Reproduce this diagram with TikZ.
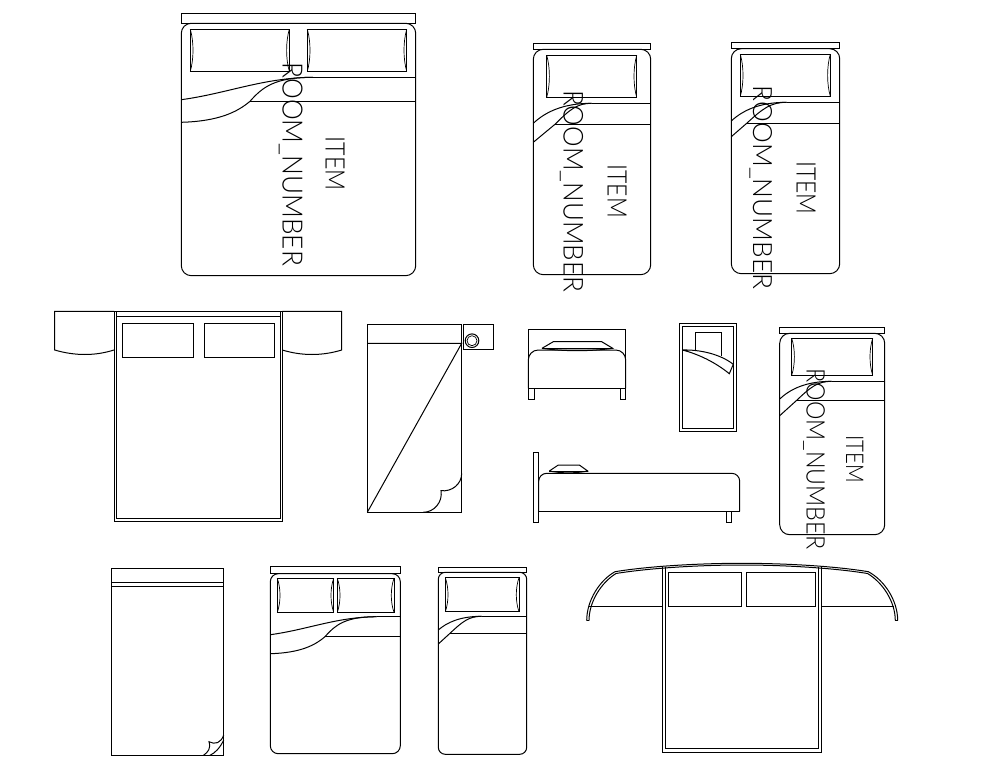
\documentclass[tikz,border=0pt]{standalone}
\usepackage{fontspec}
\usepackage{graphicx}
\setmainfont{Lato}[UprightFont=* Light]
\tikzset{
  cad/.style={line width=1pt,black,line join=miter},
  thinl/.style={line width=0.7pt,black},
  cadlabel/.style={inner sep=0pt,rotate=-90,anchor=base west},
}
% text: name, x of baseline, y of start, length, cap height, text
\newcommand{\cadtext}[6]{%
  \node[cadlabel] (#1) at (#2,#3) {\resizebox{#4pt}{#5pt}{#6}};}
\newcommand{\pillow}[4]{% x0 y0 x1 y1
  \draw[cad] (#1,#2) rectangle (#3,#4);
  \draw[thinl] (#1,#2) .. controls ({#1+3.6},{#2+(#4-#2)*0.3}) and ({#1+3.6},{#2+(#4-#2)*0.7}) .. (#1,#4);
  \draw[thinl] (#3,#2) .. controls ({#3-3.6},{#2+(#4-#2)*0.3}) and ({#3-3.6},{#2+(#4-#2)*0.7}) .. (#3,#4);
}
% bed: x0 x1 headtop matttop mattbot radius
\newcommand{\bed}[6]{%
  \draw[cad] (#1,#3) rectangle (#2,#4);
  \draw[cad,rounded corners=#6] (#1,#4) rectangle (#2,#5);
}
% wide sheet: x0 x1 ytop xtop ysec xsec ycurve1 ycurve2
\newcommand{\sheet}[8]{%
  \draw[cad] (#4,#3) -- (#2,#3);
  \draw[cad] (#6,#5) -- (#2,#5);
  \draw[cad] (#1,#7) .. controls ({#1+(#4-#1)*0.35},{#3+(#7-#3)*0.72}) and ({#1+(#4-#1)*0.62},{#3+(#7-#3)*0.02}) .. (#4,#3);
  \draw[cad] (#1,#8) .. controls ({#1+(#6-#1)*0.55},{#8-(#8-#5)*0.05}) and ({#1+(#6-#1)*0.82},{#8-(#8-#5)*0.5}) .. (#6,#5) .. controls ({#6+(#4-#6)*0.2},{#5-(#5-#3)*0.6}) and ({#6+(#4-#6)*0.4},#3) .. (#4,#3);
}
% narrow sheet
\newcommand{\sheetS}[8]{%
  \draw[cad] (#4,#3) -- (#2,#3);
  \draw[cad] (#6,#5) -- (#2,#5);
  \draw[cad] (#1,#7) .. controls ({#1+(#4-#1)*0.2},{#3+(#7-#3)*0.45}) and ({#1+(#4-#1)*0.5},#3) .. (#4,#3);
  \draw[cad] (#1,#8) -- (#6,#5) .. controls ({#6+(#4-#6)*0.4},{#5-(#5-#3)*0.7}) and ({#6+(#4-#6)*0.6},#3) .. (#4,#3);
}
\begin{document}
\begin{tikzpicture}[x=1pt,y=-1pt]
\useasboundingbox (0,0) rectangle (1007,770);
\fill[white] (0,0) rectangle (1007,770);

% --- large bed, top left
\bed{181.3}{415.7}{14}{23.3}{275.7}{10pt}
\pillow{190.3}{29.3}{289.3}{71.3}
\pillow{307.3}{29.3}{406.7}{71.3}
\sheet{181.3}{415.7}{77.3}{313}{101.3}{250}{99.7}{122.3}
\cadtext{t1a}{282.7}{62.3}{203.4}{20}{ROOM\_NUMBER}
\cadtext{t1b}{325.7}{136.7}{54}{19}{ITEM}

% --- bed 2
\bed{533.3}{650.7}{43.3}{49.3}{274.7}{10pt}
\pillow{546.7}{55.3}{636.7}{97.3}
\sheetS{533.3}{650.7}{103.3}{591.7}{124.3}{555}{123.3}{142.3}
\cadtext{t2a}{563.7}{90}{201.7}{19.6}{ROOM\_NUMBER}
\cadtext{t2b}{607.7}{164.3}{53.4}{19}{ITEM}

% --- bed 3
\bed{731.3}{839.7}{42.3}{48.7}{273.7}{10pt}
\pillow{740.3}{54.3}{830.3}{96.3}
\sheetS{731.3}{839.7}{102.3}{786.7}{123.3}{746.7}{121}{136.7}
\cadtext{t3a}{753}{85.7}{203.3}{19}{ROOM\_NUMBER}
\cadtext{t3b}{796.7}{161}{53.3}{19}{ITEM}

% --- plan with side tables
\draw[cad] (114,311.3) rectangle (282.3,521.3);
\draw[cad] (116.3,311.3) -- (116.3,518.3) -- (280.3,518.3) -- (280.3,311.3);
\draw[cad] (116.3,316) -- (280.3,316);
\draw[cad] (122.3,323.3) rectangle (193.7,357.3);
\draw[cad] (204.3,323.3) rectangle (274.3,357.3);
\draw[cad] (114,311.3) -- (54.7,311.3) -- (54.7,350) .. controls (75,356) and (95,356) .. (114,350);
\draw[cad] (282.3,311.3) -- (341.7,311.3) -- (341.7,350) .. controls (322,356) and (302,356) .. (282.3,350);

% --- plain plan with turned corner, nightstand
\draw[cad] (367.3,324.3) rectangle (461.7,512.3);
\draw[cad] (367.3,343.3) -- (461.7,343.3) -- (367.3,512.3);
\draw[cad] (461.7,473.3) .. controls (461.7,484) and (452,492) .. (441,490.7) .. controls (443,502) and (434,512.3) .. (423.3,512.3);
\draw[cad] (463.3,324.3) rectangle (493.7,349.3);
\draw[cad] (472,340.7) circle (6.8);
\draw[thinl] (472,340.7) circle (5);

% --- front elevation
\draw[cad] (528.3,388.3) -- (528.3,329.3) -- (625.7,329.3) -- (625.7,388.3);
\draw[cad,rounded corners=10pt] (528.3,388.3) -- (528.3,350) -- (625.7,350) -- (625.7,388.3);
\draw[cad] (528.3,388.3) -- (625.7,388.3);
\draw[cad] (528.3,388.3) rectangle (534.7,399.3);
\draw[cad] (620.3,388.3) rectangle (625.7,399.3);
\draw[cad] (542,348.3) -- (553.3,341.7) -- (601.7,341.7) -- (612.7,348.3) .. controls (590,351.5) and (564,351.5) .. (542,348.3);
\draw[thinl] (542,348.3) -- (612.7,348.3);

% --- small plan
\draw[cad] (679.3,323.3) rectangle (736.7,431.3);
\draw[cad] (682.3,326.3) rectangle (733.7,428.3);
\draw[cad] (721.7,355.7) -- (721.7,332.3) -- (695.3,332.3) -- (695.3,350.2);
\draw[cad] (682.3,350) .. controls (700,349.5) and (720,354) .. (733.3,364.3) -- (729.3,373.7) .. controls (715,362) and (698,354) .. (682.3,350);

% --- side elevation
\draw[cad] (533.3,452.3) rectangle (538.7,522.3);
\draw[cad,rounded corners=8pt] (538.7,511.3) -- (538.7,473.3) -- (739.7,473.3) -- (739.7,511.3);
\draw[cad] (538.7,511.3) -- (739.7,511.3);
\draw[cad] (726,511.3) rectangle (731.7,522.3);
\draw[cad] (549.3,471) -- (558.3,465) -- (579.3,465) -- (587.7,471) .. controls (575,473.5) and (562,473.5) .. (549.3,471);
\draw[thinl] (549.3,471) -- (587.7,471);

% --- right bed
\bed{779.7}{884.7}{327.3}{333.3}{534.7}{10pt}
\pillow{791.7}{338.3}{872.7}{375.3}
\sheetS{779.7}{884.7}{381.3}{831.7}{400.3}{796.7}{399}{415.7}
\cadtext{t4a}{806.7}{368.3}{180.7}{18.3}{ROOM\_NUMBER}
\cadtext{t4b}{846}{435}{47.7}{17.3}{ITEM}

% --- bottom: plain plan
\draw[cad] (111.3,568.3) rectangle (223.7,755.3);
\draw[cad] (111.3,582.3) -- (223.7,582.3);
\draw[cad] (111.3,586.3) -- (223.7,586.3);
\draw[cad] (223.7,735) .. controls (221,743) and (215,745) .. (209,741.7) .. controls (211,749) and (208,752) .. (203.5,755.3);
\draw[cad] (223.7,740) .. controls (220,748) and (215,753) .. (210,755.3);

% --- bottom double bed
\bed{270.3}{400.3}{566.3}{573.7}{753.7}{8pt}
\pillow{277.3}{578.3}{333.7}{612.3}
\pillow{337.3}{578.3}{394}{612.3}
\sheet{270.3}{400.3}{616.7}{376.7}{636.7}{325}{634.7}{653.7}

% --- bottom single bed
\bed{438.3}{526.7}{567.3}{572.3}{754.3}{7pt}
\pillow{445.3}{577.7}{519}{611.7}
\sheetS{438.3}{526.7}{616.3}{481.7}{633.3}{450}{630}{644}

% --- plan with curved back
\draw[cad] (662.3,566.7) -- (662.3,752.3) -- (821.7,752.3) -- (821.7,566.7);
\draw[cad] (665.7,566.7) -- (665.7,748.3) -- (818.3,748.3) -- (818.3,566.7);
\draw[cad] (668.3,572.3) rectangle (741.7,606.7);
\draw[cad] (746.3,572.3) rectangle (815.7,606.7);
\draw[cad] (589.3,606.7) -- (662.3,606.7);
\draw[cad] (821.7,606.7) -- (894.3,606.7);
\draw[cad] (586.7,620.7) .. controls (586.7,600) and (600,580) .. (615,571.7) .. controls (650,566) and (700,563.3) .. (741.7,563.3) .. controls (784,563.3) and (834,566) .. (868.3,571.7) .. controls (884,580) and (897.7,600) .. (897.7,620.7);
\draw[cad] (589,620.7) .. controls (589,601) and (602,582) .. (616,573.5) .. controls (650,568) and (700,565) .. (741.7,565) .. controls (784,565) and (834,568) .. (867.5,573.5) .. controls (882,582) and (895.3,601) .. (895.3,620.7);
\draw[cad] (586.7,620.7) -- (589,620.7);
\draw[cad] (895.3,620.7) -- (897.7,620.7);
\end{tikzpicture}
\end{document}
